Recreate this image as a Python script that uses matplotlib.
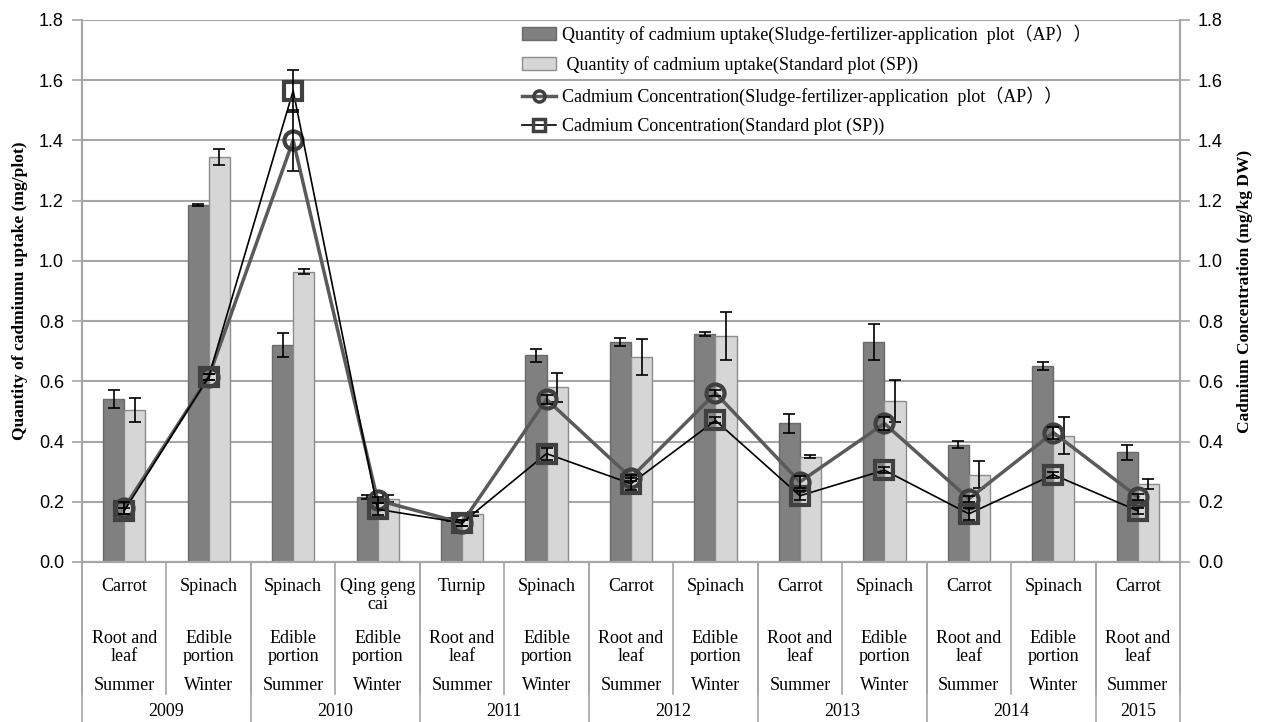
import matplotlib.pyplot as plt
import numpy as np
from matplotlib.font_manager import FontProperties
from matplotlib.transforms import blended_transform_factory

# categories
crops = ['Carrot', 'Spinach', 'Spinach', 'Qing geng\ncai', 'Turnip', 'Spinach', 'Carrot',
         'Spinach', 'Carrot', 'Spinach', 'Carrot', 'Spinach', 'Carrot']
parts = ['Root and\nleaf', 'Edible\nportion', 'Edible\nportion', 'Edible\nportion', 'Root and\nleaf',
         'Edible\nportion', 'Root and\nleaf', 'Edible\nportion', 'Root and\nleaf', 'Edible\nportion',
         'Root and\nleaf', 'Edible\nportion', 'Root and\nleaf']
seasons = ['Summer', 'Winter', 'Summer', 'Winter', 'Summer', 'Winter', 'Summer',
           'Winter', 'Summer', 'Winter', 'Summer', 'Winter', 'Summer']
years = ['2009', '2010', '2011', '2012', '2013', '2014', '2015']
year_n = [2, 2, 2, 2, 2, 2, 1]

# uptake (mg/plot)
ap_bar = [0.54, 1.185, 0.72, 0.215, 0.14, 0.687, 0.73, 0.757, 0.46, 0.73, 0.39, 0.65, 0.365]
ap_bar_err = [0.03, 0.004, 0.04, 0.006, 0.005, 0.022, 0.013, 0.007, 0.03, 0.06, 0.012, 0.013, 0.025]
sp_bar = [0.505, 1.345, 0.964, 0.21, 0.16, 0.58, 0.68, 0.75, 0.35, 0.535, 0.29, 0.42, 0.26]
sp_bar_err = [0.04, 0.026, 0.008, 0.012, 0.006, 0.048, 0.06, 0.08, 0.005, 0.07, 0.045, 0.06, 0.017]

# concentration (mg/kg DW)
ap_conc = [0.18, 0.615, 1.40, 0.205, 0.13, 0.54, 0.28, 0.561, 0.266, 0.46, 0.21, 0.43, 0.216]
ap_conc_err = [0.02, 0.01, 0.10, 0.01, 0.01, 0.015, 0.01, 0.01, 0.02, 0.02, 0.01, 0.02, 0.01]
sp_conc = [0.17, 0.615, 1.565, 0.175, 0.13, 0.36, 0.26, 0.47, 0.22, 0.305, 0.16, 0.29, 0.17]
sp_conc_err = [0.01, 0.01, 0.07, 0.02, 0.01, 0.02, 0.02, 0.01, 0.015, 0.01, 0.02, 0.01, 0.01]

serif = ['Liberation Serif', 'Noto Sans CJK SC']
sans = 'Liberation Sans'

fig = plt.figure(figsize=(12.63, 7.22), dpi=100)
ax = fig.add_axes([82 / 1263, 160 / 722, 1098 / 1263, 542 / 722])
ax2 = ax.twinx()

x = np.arange(len(crops))
w = 0.25
grid_c = '#a6a6a6'

b1 = ax.bar(x - w / 2, ap_bar, w, color='#808080', edgecolor='#6a6a6a', lw=1, zorder=2,
            label='Quantity of cadmium uptake(Sludge-fertilizer-application  plot（AP））')
b2 = ax.bar(x + w / 2, sp_bar, w, color='#d6d6d6', edgecolor='#8c8c8c', lw=1, zorder=2,
            label=' Quantity of cadmium uptake(Standard plot (SP))')
ax.errorbar(x - w / 2, ap_bar, yerr=ap_bar_err, fmt='none', ecolor='black', elinewidth=1.2,
            capsize=4, capthick=1.2, zorder=3)
ax.errorbar(x + w / 2, sp_bar, yerr=sp_bar_err, fmt='none', ecolor='black', elinewidth=1.2,
            capsize=4, capthick=1.2, zorder=3)

l1, = ax2.plot(x, ap_conc, color='#5a5a5a', lw=2.5, marker='o', ms=13, mfc='none',
               mec='#404040', mew=3, zorder=4,
               label='Cadmium Concentration(Sludge-fertilizer-application  plot（AP））')
l2, = ax2.plot(x, sp_conc, color='black', lw=1.2, marker='s', ms=13, mfc='none',
               mec='#404040', mew=3, zorder=5,
               label='Cadmium Concentration(Standard plot (SP))')
ax2.errorbar(x, ap_conc, yerr=ap_conc_err, fmt='none', ecolor='black', elinewidth=1.2,
             capsize=4, capthick=1.2, zorder=6)
ax2.errorbar(x, sp_conc, yerr=sp_conc_err, fmt='none', ecolor='black', elinewidth=1.2,
             capsize=4, capthick=1.2, zorder=6)

for a in (ax, ax2):
    a.set_ylim(0, 1.8)
    a.set_yticks(np.arange(0, 1.81, 0.2))
    a.set_yticklabels(['%.1f' % v for v in np.arange(0, 1.81, 0.2)], fontsize=13, family=sans)
    a.tick_params(axis='y', length=7, color=grid_c, width=1.2, pad=6)
    for s in a.spines.values():
        s.set_color(grid_c)
        s.set_linewidth(1.5)
    a.spines['top'].set_visible(False)
ax.set_xlim(-0.5, len(crops) - 0.5)
ax.set_xticks([])
ax.yaxis.grid(True, color=grid_c, lw=1.5, zorder=0)
ax.set_axisbelow(True)

ax.set_ylabel('Quantity of cadmiumu uptake (mg/plot)', family=serif, fontweight='bold',
              fontsize=12.5, labelpad=8)
ax2.set_ylabel('Cadmium Concentration (mg/kg DW)', family=serif, fontweight='bold',
               fontsize=12.5, labelpad=10)

# category table under the axis
tr = blended_transform_factory(ax.transData, ax.transAxes)
H = 542.0
def fy(px):
    return -px / H

tfont = dict(family=serif, fontsize=13, ha='center', transform=tr, linespacing=1.05)
for i in range(len(crops)):
    ax.text(i, fy(16), crops[i], va='top', **tfont)
    ax.text(i, fy(68), parts[i], va='top', **tfont)
    ax.text(i, fy(123), seasons[i], va='center', **tfont)

# separators between crops
for i in range(len(crops) + 1):
    ax.plot([i - 0.5, i - 0.5], [0, fy(132)], color=grid_c, lw=1.2, transform=tr, clip_on=False)
# separators between years + year labels
pos = -0.5
ax.plot([pos, pos], [0, fy(160)], color=grid_c, lw=1.2, transform=tr, clip_on=False)
for yr, n in zip(years, year_n):
    ax.text(pos + n / 2, fy(150), yr, va='center', **tfont)
    pos += n
    ax.plot([pos, pos], [0, fy(160)], color=grid_c, lw=1.2, transform=tr, clip_on=False)

leg = ax2.legend([b1, b2, l1, l2], [b1.get_label(), b2.get_label(), l1.get_label(), l2.get_label()],
                 loc='upper left', bbox_to_anchor=(0.391, 1.012), frameon=False,
                 prop=FontProperties(family=serif, size=13), labelspacing=0.68,
                 handlelength=1.85, handletextpad=0.35, borderaxespad=0.2)
for h in leg.legend_handles[2:]:
    h.set_markersize(8)
    h.set_markeredgewidth(2.5)

fig.savefig('out.png', dpi=100)
